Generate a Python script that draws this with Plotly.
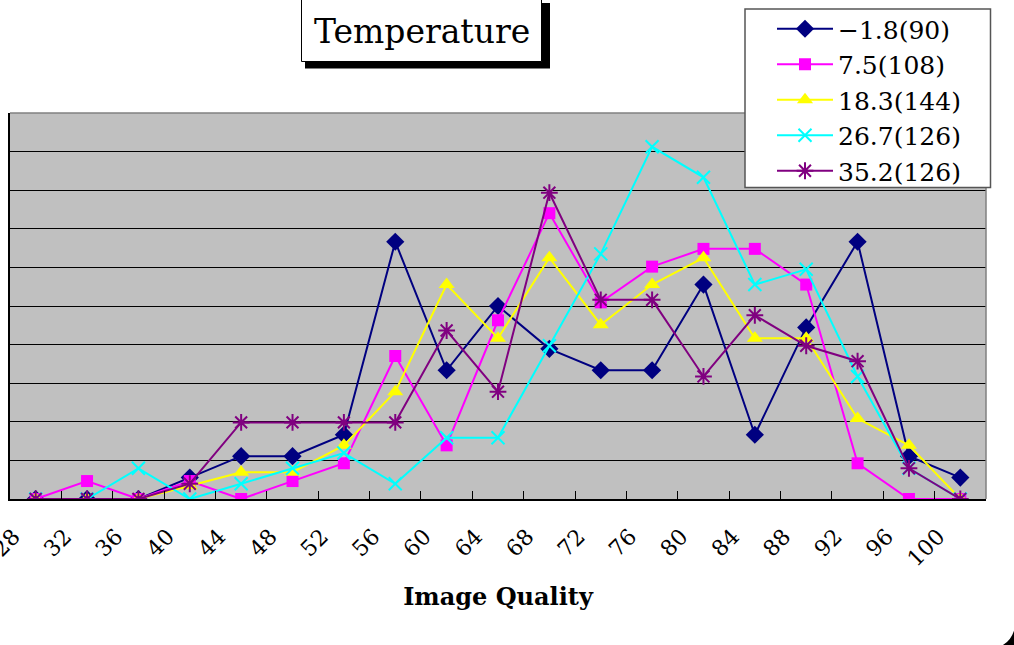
import plotly.graph_objects as go

# ---------------- data (percent of samples per quality bin) ----------------
categories = ["28", "32", "36", "40", "44", "48", "52", "56", "60", "64",
              "68", "72", "76", "80", "84", "88", "92", "96", "100"]

s_m18 = [0, 0, 0, 1.11, 2.22, 2.22, 3.33, 13.33, 6.67, 10.0,
         7.78, 6.67, 6.67, 11.11, 3.33, 8.89, 13.33, 2.22, 1.11]
s_75 = [0, 0.93, 0, 0.93, 0, 0.93, 1.85, 7.41, 2.78, 9.26,
        14.81, 10.19, 12.04, 12.96, 12.96, 11.11, 1.85, 0, 0]
s_183 = [0, 0, 0, 0.69, 1.39, 1.39, 2.78, 5.56, 11.11, 8.33,
         12.5, 9.03, 11.11, 12.5, 8.33, 8.33, 4.17, 2.78, 0]
s_267 = [0, 0, 1.59, 0, 0.79, 1.59, 2.38, 0.79, 3.17, 3.17,
         7.94, 12.7, 18.25, 16.67, 11.11, 11.9, 6.35, 1.59, 0]
s_352 = [0, 0, 0, 0.79, 3.97, 3.97, 3.97, 3.97, 8.73, 5.56,
         15.87, 10.32, 10.32, 6.35, 9.52, 7.94, 7.14, 1.59, 0]

series_names = ["\u22121.8(90)", "7.5(108)", "18.3(144)", "26.7(126)", "35.2(126)"]
title_text = "Temperature"
x_title = "Image Quality"

# ---------------- geometry helpers ----------------
W, H = 1014, 645
ML, MR, MT, MB = 10, 28, 113, 146
PW, PH = W - ML - MR, H - MT - MB


def px(x):
    return (x - ML) / PW


def py(y):
    return (H - MB - y) / PH


SERIF = "DejaVu Serif"

styles = [
    dict(color="#000080", symbol="diamond", size=14, lw=0),
    dict(color="#FF00FF", symbol="square", size=12, lw=0),
    dict(color="#FFFF00", symbol="triangle-up", size=14, lw=0),
    dict(color="#00FFFF", symbol="x-thin", size=13, lw=2),
    dict(color="#800080", symbol="asterisk", size=14, lw=2),
]

fig = go.Figure()
for name, vals, st in zip(series_names, [s_m18, s_75, s_183, s_267, s_352], styles):
    fig.add_trace(go.Scatter(
        x=categories, y=vals, name=name, mode="lines+markers",
        line=dict(color=st["color"], width=2),
        marker=dict(symbol=st["symbol"], size=st["size"], color=st["color"],
                    line=dict(color=st["color"], width=st["lw"])),
    ))

shapes = [
    # plot area top and right border (gray)
    dict(type="line", xref="paper", yref="paper", x0=0, x1=1, y0=1, y1=1,
         line=dict(color="#808080", width=1.5), layer="above"),
    dict(type="line", xref="paper", yref="paper", x0=1, x1=1, y0=0, y1=1,
         line=dict(color="#808080", width=1.5), layer="above"),
    # title box shadow and box
    dict(type="rect", xref="paper", yref="paper", x0=px(305), x1=px(550), y0=py(3), y1=py(68.5),
         fillcolor="black", line=dict(width=0), layer="above"),
    dict(type="rect", xref="paper", yref="paper", x0=px(301.5), x1=px(541.5), y0=py(-1), y1=py(61.5),
         fillcolor="white", line=dict(color="black", width=1), layer="above"),
    # legend box
    dict(type="rect", xref="paper", yref="paper", x0=px(745), x1=px(990.5), y0=py(9), y1=py(187.5),
         fillcolor="white", line=dict(color="#555555", width=1.5), layer="above"),
    # chart-area corner
    dict(type="path", xref="paper", yref="paper", layer="above",
         path=(f"M{px(1001)},{py(646)} Q{px(1012)},{py(641)} {px(1015)},{py(627)} "
               f"L{px(1015)},{py(646)} Z"),
         fillcolor="black", line=dict(width=0)),
]

fig.update_layout(
    width=W, height=H,
    margin=dict(l=ML, r=MR, t=MT, b=MB, autoexpand=False),
    paper_bgcolor="white", plot_bgcolor="#C0C0C0",
    font=dict(family=SERIF, color="black"),
    showlegend=True,
    legend=dict(x=px(772), y=py(6), xanchor="left", yanchor="top",
                bgcolor="rgba(0,0,0,0)", borderwidth=0,
                font=dict(family=SERIF, size=25, color="black"),
                itemwidth=56, tracegroupgap=0),
    shapes=shapes,
    annotations=[dict(text=title_text, x=px(421.5), y=py(32), xref="paper", yref="paper",
                      xanchor="center", yanchor="middle", showarrow=False,
                      font=dict(family=SERIF, size=33, color="black"))],
    xaxis=dict(type="category", categoryorder="array", categoryarray=categories,
               range=[-0.5, 18.5], tickson="boundaries", ticks="inside", ticklen=8,
               tickcolor="black", tickwidth=1, showline=True, linecolor="black", linewidth=2,
               showgrid=False, tickangle=-45, tickfont=dict(family=SERIF, size=22),
               ticklabelshift=-22, ticklabelstandoff=14, automargin=False,
               title=dict(text=x_title, font=dict(family=SERIF, size=24, weight="bold"),
                          standoff=18)),
    yaxis=dict(range=[0, 20], dtick=2, tick0=0, showticklabels=False, ticks="inside",
               ticklen=7, tickcolor="black", showline=True, linecolor="black", linewidth=1.5,
               showgrid=True, gridcolor="black", gridwidth=1, zeroline=False, automargin=False),
)

fig.write_html("out.html")
